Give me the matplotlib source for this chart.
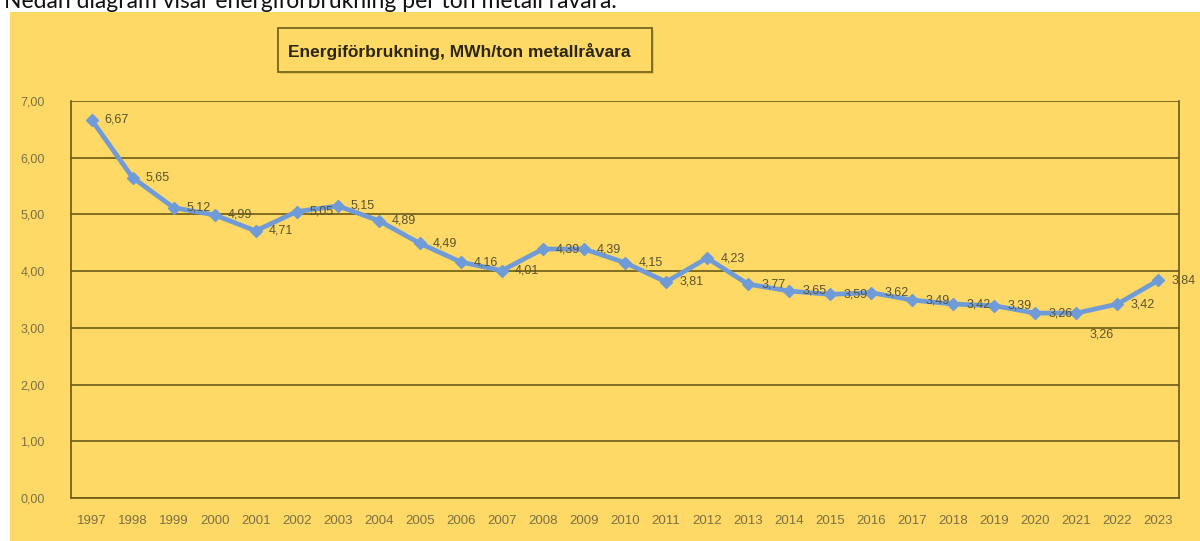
import matplotlib
matplotlib.use("Agg")
import matplotlib.pyplot as plt
from matplotlib.patches import Rectangle

# ---------------------------------------------------------------------------
# Data
# ---------------------------------------------------------------------------
YEARS = [str(y) for y in range(1997, 2024)]
ENERGY_MWH_PER_TON = [
    6.67, 5.65, 5.12, 4.99, 4.71, 5.05, 5.15, 4.89, 4.49, 4.16,
    4.01, 4.39, 4.39, 4.15, 3.81, 4.23, 3.77, 3.65, 3.59, 3.62,
    3.49, 3.42, 3.39, 3.26, 3.26, 3.42, 3.84,
]
Y_TICKS = [0, 1, 2, 3, 4, 5, 6, 7]
TITLE = "Energiförbrukning, MWh/ton metallråvara"
INTRO = "Nedan diagram visar energiförbrukning per ton metall råvara."

W, H = 1200, 541
BG = "#FFD966"
GRID = "#6b5a14"
LINE = "#6f9bd8"
LABEL = "#5a5330"
TICK = "#7a7045"
NARROW = ["Liberation Sans Narrow", "Liberation Sans", "DejaVu Sans"]


def fx(px):
    return px / W


def fy(py):
    return 1 - py / H


def fmt(v):
    return f"{v:.2f}".replace(".", ",")


fig = plt.figure(figsize=(W / 100, H / 100), dpi=100)

# intro sentence, mostly cut off by the chart frame
fig.text(fx(4), fy(8), INTRO, fontsize=16.5, family=["Lato", "DejaVu Sans"],
         color="#111111", ha="left", va="baseline", zorder=0.5)

# yellow chart frame
fig.add_artist(Rectangle((fx(10), 0), 1 - fx(10), fy(12), transform=fig.transFigure,
                         facecolor=BG, edgecolor="none", zorder=1))

# title box with soft shadow
fig.add_artist(Rectangle((fx(280), fy(74)), fx(374), fy(28) - fy(72),
                         transform=fig.transFigure, facecolor="#e8c050",
                         edgecolor="none", zorder=1.2))
fig.add_artist(Rectangle((fx(278), fy(72)), fx(374), fy(28) - fy(72),
                         transform=fig.transFigure, facecolor=BG,
                         edgecolor="#75661e", lw=1.3, zorder=1.3))
fig.text(fx(459), fy(51), TITLE, fontsize=12.5, fontweight="bold", family=NARROW,
         color="#2b2612", ha="center", va="center", zorder=1.4)

ax = fig.add_axes([fx(71), fy(498), fx(1179) - fx(71), fy(101) - fy(498)])
ax.set_zorder(2)
ax.set_facecolor(BG)

x = list(range(len(YEARS)))
ax.plot(x, ENERGY_MWH_PER_TON, color=LINE, lw=3.4, marker="D", markersize=6,
        markerfacecolor=LINE, markeredgecolor=LINE, solid_joinstyle="round", zorder=3)

for i, v in enumerate(ENERGY_MWH_PER_TON):
    if YEARS[i] == "2021":
        ax.annotate(fmt(v), (i, v), xytext=(18.5, -15.5), textcoords="offset points",
                    ha="center", va="center", fontsize=9, family=NARROW,
                    color=LABEL, zorder=4)
    else:
        ax.annotate(fmt(v), (i, v), xytext=(9.5, 0), textcoords="offset points",
                    ha="left", va="center", fontsize=9, family=NARROW,
                    color=LABEL, zorder=4)

ax.set_xlim(-0.5, len(YEARS) - 0.5)
ax.set_ylim(0, 7)
ax.set_xticks(x)
ax.set_xticklabels(YEARS, family=NARROW, fontsize=9.5, color=TICK)
ax.set_yticks(Y_TICKS)
ax.set_yticklabels([fmt(t) for t in Y_TICKS], family=NARROW, fontsize=9, color=TICK)
ax.tick_params(axis="x", length=0, pad=12)
ax.tick_params(axis="y", length=0, pad=19)

ax.grid(axis="y", color=GRID, lw=1.2, zorder=1)
ax.set_axisbelow(True)
for side in ["left", "right", "bottom"]:
    ax.spines[side].set_color(GRID)
    ax.spines[side].set_linewidth(1.2)
ax.spines["top"].set_visible(False)

fig.savefig("out.png", dpi=100)
